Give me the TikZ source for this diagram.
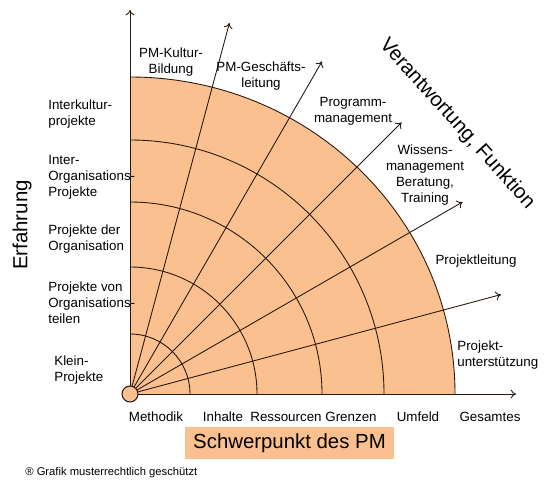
\documentclass[tikz,border=0pt]{standalone}
\usepackage{fontspec}
\setmainfont{Liberation Sans}
\usepackage{tikz}
\usetikzlibrary{arrows.meta}
\definecolor{fieldColor}{HTML}{FAC090}
\definecolor{lineColor}{rgb}{0.15,0.1,0.05}

\begin{document}
\begin{tikzpicture}[x=0.02cm,y=0.02cm]

          \tikzstyle{labelNode} = [font=\fontsize{7.6}{9.1}\selectfont, align=center, inner sep=0pt];
          \tikzstyle{leftNode} = [labelNode, align=left, anchor=west];
          \tikzstyle{bigNode} = [font=\fontsize{11.6}{13}\selectfont, inner sep=0pt];
          \tikzstyle{gridLine} = [lineColor, line width=0.5pt];
          \tikzstyle{rayEdge} = [gridLine, -{To[length=3pt,width=5pt]}];
          \tikzstyle{originNode} = [circle, draw=lineColor, fill=fieldColor, line width=0.6pt, minimum size=0.32cm, inner sep=0pt];

          \useasboundingbox (-130,-101) rectangle (420,394);

          % quarter field with its rings
          \fill[fieldColor] (0,0) -- (325,0) arc[start angle=0, end angle=90, x radius=325, y radius=317] -- cycle;
          \draw[gridLine] (60,0) arc[start angle=0, end angle=90, radius=60];
          \draw[gridLine] (127,0) arc[start angle=0, end angle=90, radius=127];
          \draw[gridLine] (192,0) arc[start angle=0, end angle=90, radius=192];
          \draw[gridLine] (254,0) arc[start angle=0, end angle=90, radius=254];
          \draw[gridLine] (325,0) arc[start angle=0, end angle=90, x radius=325, y radius=317];

          \coordinate (o) at (0,0);
          \coordinate (xTip) at (386,0);
          \coordinate (yTip) at (0,384);
          \coordinate (tipA) at (75:384);
          \coordinate (tipB) at (60:384);
          \coordinate (tipC) at (45:384);
          \coordinate (tipD) at (30:384);
          \coordinate (tipE) at (15:384);

          \draw[rayEdge] (o) -- (tipA);
          \draw[rayEdge] (o) -- (tipB);
          \draw[rayEdge] (o) -- (tipC);
          \draw[rayEdge] (o) -- (tipD);
          \draw[rayEdge] (o) -- (tipE);
          \draw[rayEdge] (o) -- (xTip);
          \draw[rayEdge] (o) -- (yTip);

          \node[originNode] (origin) at (o) {};

          % function labels
          \node[labelNode] (kultur) at (41,332) {PM-Kultur-\\Bildung};
          \node[labelNode] (leitung) at (131,318) {PM-Geschäfts-\\leitung};
          \node[labelNode] (programm) at (223,283) {Programm-\\management};
          \node[labelNode] (wissen) at (295,219) {Wissens-\\management\\Beratung,\\Training};
          \node[labelNode] (projekt) at (346,133) {Projektleitung};
          \node[leftNode] (support) at (327,39) {Projekt-\\unterstützung};

          % experience labels
          \node[leftNode] (interkultur) at (-82,280) {Interkultur-\\projekte};
          \node[leftNode] (interorg) at (-82,217) {Inter-\\Organisations-\\Projekte};
          \node[leftNode] (orgProj) at (-82,155) {Projekte der\\Organisation};
          \node[leftNode] (teilProj) at (-82,91) {Projekte von\\Organisations-\\teilen};
          \node[leftNode] (klein) at (-76,24) {Klein-\\Projekte};

          % focus labels
          \node[labelNode] (methodik) at (26,-23) {Methodik};
          \node[labelNode] (inhalte) at (93,-23) {Inhalte};
          \node[labelNode] (ressourcen) at (156,-23) {Ressourcen};
          \node[labelNode] (grenzen) at (221,-23) {Grenzen};
          \node[labelNode] (umfeld) at (288,-23) {Umfeld};
          \node[labelNode] (gesamt) at (360,-23) {Gesamtes};

          % axis titles
          \node[bigNode, fill=fieldColor, minimum width=4.18cm, minimum height=0.64cm] (schwerpunkt) at (159.5,-49) {Schwerpunkt des PM};
          \node[bigNode, rotate=90] (erfahrung) at (-108,169) {Erfahrung};
          \node[bigNode, rotate=-48] (verantwortung) at (327,270) {Verantwortung, Funktion};

          \node[font=\fontsize{6.4}{7.5}\selectfont, anchor=west, inner sep=0pt] (schutz) at (-105,-79) {® Grafik musterrechtlich geschützt};
        \end{tikzpicture}
\end{document}
